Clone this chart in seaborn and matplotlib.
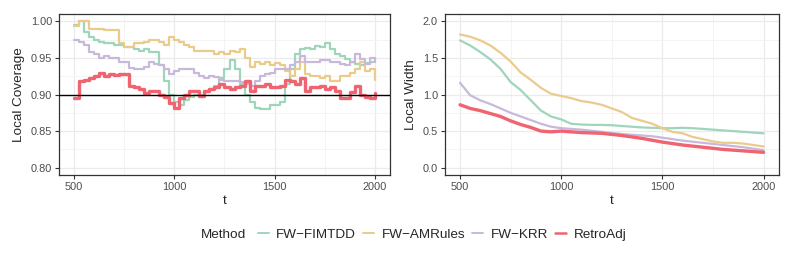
import numpy as np
import pandas as pd
import matplotlib
matplotlib.use("Agg")
import matplotlib.pyplot as plt
from matplotlib.lines import Line2D
import seaborn as sns

methods = ["FW\u2212FIMTDD", "FW\u2212AMRules", "FW\u2212KRR", "RetroAdj"]
colors = ["#9fd5bb", "#ebcb8c", "#c8b9dc", "#ef6470"]

t_cov = list(range(500, 2001, 25))
cov_fimtdd = [0.995, 1.0, 0.985, 0.978, 0.975, 0.972, 0.97, 0.97, 0.968, 0.967, 0.965, 0.965, 0.962, 0.96, 0.962, 0.958,
              0.958, 0.94, 0.918, 0.9, 0.89, 0.885, 0.892, 0.897, 0.9, 0.9, 0.905, 0.908, 0.912, 0.922, 0.935, 0.947,
              0.935, 0.915, 0.9, 0.89, 0.882, 0.88, 0.88, 0.886, 0.885, 0.89, 0.915, 0.935, 0.955, 0.962, 0.963, 0.962,
              0.966, 0.965, 0.97, 0.962, 0.955, 0.952, 0.948, 0.945, 0.942, 0.94, 0.943, 0.944, 0.945]
cov_amrules = [0.993, 1.0, 1.0, 0.99, 0.99, 0.99, 0.988, 0.988, 0.988, 0.97, 0.965, 0.965, 0.97, 0.97, 0.972, 0.975,
               0.975, 0.972, 0.968, 0.978, 0.975, 0.972, 0.968, 0.965, 0.96, 0.96, 0.96, 0.96, 0.955, 0.958, 0.955, 0.96,
               0.958, 0.962, 0.95, 0.938, 0.945, 0.942, 0.945, 0.94, 0.943, 0.94, 0.932, 0.925, 0.935, 0.945, 0.928, 0.925,
               0.925, 0.922, 0.925, 0.918, 0.918, 0.925, 0.925, 0.93, 0.935, 0.945, 0.932, 0.935, 0.92]
cov_krr = [0.975, 0.972, 0.968, 0.958, 0.955, 0.95, 0.952, 0.95, 0.95, 0.945, 0.945, 0.936, 0.935, 0.935, 0.937, 0.945,
           0.942, 0.94, 0.935, 0.928, 0.932, 0.935, 0.935, 0.935, 0.93, 0.925, 0.923, 0.925, 0.924, 0.92, 0.918, 0.918,
           0.918, 0.917, 0.915, 0.912, 0.918, 0.925, 0.928, 0.93, 0.935, 0.935, 0.935, 0.94, 0.945, 0.953, 0.944, 0.945,
           0.945, 0.947, 0.947, 0.945, 0.945, 0.942, 0.94, 0.945, 0.955, 0.948, 0.942, 0.95, 0.945]
cov_retro = [0.895, 0.918, 0.92, 0.922, 0.925, 0.93, 0.925, 0.928, 0.926, 0.928, 0.928, 0.912, 0.91, 0.908, 0.902, 0.905,
             0.905, 0.9, 0.897, 0.888, 0.882, 0.895, 0.9, 0.905, 0.905, 0.898, 0.905, 0.908, 0.91, 0.915, 0.91, 0.908,
             0.91, 0.912, 0.918, 0.905, 0.912, 0.912, 0.915, 0.91, 0.91, 0.912, 0.92, 0.918, 0.915, 0.923, 0.905, 0.91,
             0.91, 0.912, 0.908, 0.91, 0.905, 0.895, 0.895, 0.903, 0.912, 0.9, 0.897, 0.895, 0.902]

t_wid = list(range(500, 2001, 50))
wid_fimtdd = [1.74, 1.67, 1.58, 1.48, 1.35, 1.17, 1.06, 0.92, 0.78, 0.70, 0.66, 0.60, 0.59, 0.585, 0.585, 0.58, 0.57,
              0.56, 0.55, 0.545, 0.54, 0.54, 0.545, 0.54, 0.53, 0.52, 0.51, 0.50, 0.49, 0.48, 0.47]
wid_amrules = [1.82, 1.79, 1.74, 1.67, 1.57, 1.45, 1.30, 1.20, 1.09, 1.01, 0.98, 0.95, 0.91, 0.89, 0.86, 0.81, 0.76,
               0.68, 0.64, 0.60, 0.54, 0.49, 0.47, 0.42, 0.39, 0.36, 0.34, 0.34, 0.33, 0.31, 0.29]
wid_krr = [1.16, 0.99, 0.92, 0.87, 0.81, 0.75, 0.70, 0.65, 0.60, 0.56, 0.54, 0.53, 0.52, 0.505, 0.49, 0.475, 0.46, 0.45,
           0.44, 0.43, 0.41, 0.39, 0.37, 0.355, 0.34, 0.325, 0.31, 0.295, 0.28, 0.26, 0.24]
wid_retro = [0.86, 0.81, 0.78, 0.74, 0.70, 0.64, 0.59, 0.55, 0.50, 0.49, 0.50, 0.49, 0.48, 0.475, 0.47, 0.455, 0.44,
             0.42, 0.40, 0.375, 0.35, 0.33, 0.31, 0.295, 0.28, 0.265, 0.25, 0.24, 0.23, 0.22, 0.21]

cov_df = pd.concat([pd.DataFrame({"t": t_cov, "value": v, "Method": m})
                    for m, v in zip(methods, [cov_fimtdd, cov_amrules, cov_krr, cov_retro])])
wid_df = pd.concat([pd.DataFrame({"t": t_wid, "value": v, "Method": m})
                    for m, v in zip(methods, [wid_fimtdd, wid_amrules, wid_krr, wid_retro])])

palette = dict(zip(methods, colors))
sizes = {methods[0]: 1.6, methods[1]: 1.6, methods[2]: 1.6, methods[3]: 2.4}

sns.set_theme(style="white")
plt.rcParams["font.family"] = ["Liberation Sans", "DejaVu Sans"]

fig = plt.figure(figsize=(7.93, 2.64), dpi=100)
ax1 = fig.add_axes([0.0744, 0.337, 0.4174, 0.610])
ax2 = fig.add_axes([0.561, 0.337, 0.421, 0.610])

sns.lineplot(data=cov_df, x="t", y="value", hue="Method", size="Method", sizes=sizes,
             palette=palette, hue_order=methods, drawstyle="steps-post", legend=False, ax=ax1)
ax1.axhline(0.90, color="black", lw=1.0, zorder=5)
sns.lineplot(data=wid_df, x="t", y="value", hue="Method", size="Method", sizes=sizes,
             palette=palette, hue_order=methods, legend=False, ax=ax2)

ax1.set_xlim(425, 2075)
ax1.set_ylim(0.79, 1.01)
ax1.set_yticks([0.80, 0.85, 0.90, 0.95, 1.00])
ax1.set_yticklabels(["0.80", "0.85", "0.90", "0.95", "1.00"])
ax1.set_yticks([0.825, 0.875, 0.925, 0.975], minor=True)
ax1.set_ylabel("Local Coverage", fontsize=9.7, labelpad=4)

ax2.set_xlim(425, 2075)
ax2.set_ylim(-0.1, 2.1)
ax2.set_yticks([0.0, 0.5, 1.0, 1.5, 2.0])
ax2.set_yticklabels(["0.0", "0.5", "1.0", "1.5", "2.0"])
ax2.set_yticks([0.25, 0.75, 1.25, 1.75], minor=True)
ax2.set_ylabel("Local Width", fontsize=9.7, labelpad=4)

for ax in (ax1, ax2):
    ax.set_xticks([500, 1000, 1500, 2000])
    ax.set_xticklabels(["500", "1000", "1500", "2000"])
    ax.set_xticks([750, 1250, 1750], minor=True)
    ax.set_xlabel("t", fontsize=9.7, labelpad=2)
    ax.grid(which="major", color="#ebebeb", lw=0.9)
    ax.grid(which="minor", color="#f3f3f3", lw=0.6)
    ax.set_axisbelow(True)
    for s in ax.spines.values():
        s.set_color("#333333")
        s.set_linewidth(0.9)
    ax.tick_params(axis="both", which="major", labelsize=7.9, labelcolor="#4d4d4d",
                   length=3, width=0.8, color="#333333", pad=2, left=True, bottom=True)
    ax.tick_params(which="minor", length=0)

handles = [Line2D([0], [0], color=c, lw=1.4 if m != "RetroAdj" else 1.8) for m, c in zip(methods, colors)]
fig.text(0.253, 0.11, "Method", fontsize=9.7, ha="left", va="center")
fig.legend(handles, methods, loc="center left", bbox_to_anchor=(0.325, 0.11), ncol=4, frameon=False,
           fontsize=9.7, handlelength=0.8, handletextpad=0.55, columnspacing=0.55, borderaxespad=0, borderpad=0)

fig.savefig("out.png", dpi=100, facecolor="white")
